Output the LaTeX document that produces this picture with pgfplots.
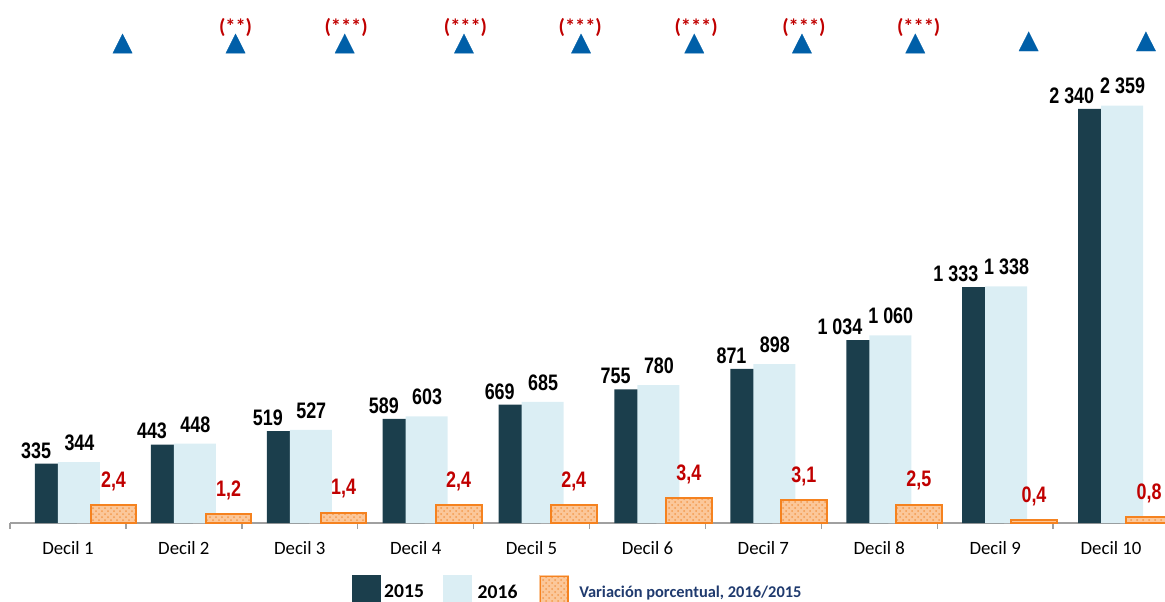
\documentclass[border=0pt]{standalone}
\usepackage{pgfplots}
\pgfplotsset{compat=1.18}
\usepackage{fontspec}
\setmainfont{Carlito}
\newfontfamily\numfont[FakeStretch=0.8]{Liberation Sans}
\usetikzlibrary{patterns}
\definecolor{darkbar}{HTML}{1B3E4C}
\definecolor{lightbar}{HTML}{DBEEF4}
\definecolor{oredge}{HTML}{F5821F}
\definecolor{orfill}{HTML}{FBC79A}
\definecolor{ordots}{HTML}{F39A4E}
\definecolor{triblue}{HTML}{005FA8}
\definecolor{redlab}{HTML}{C00000}
\definecolor{navy}{HTML}{1F3A6E}
\definecolor{axisgray}{HTML}{A0A0A0}
\begin{document}
\begin{tikzpicture}
\begin{axis}[
  at={(0pt,0pt)}, anchor=south west,
  scale only axis, width=577.5pt, height=261.5pt,
  xmin=-0.5, xmax=9.4655, ymin=0, ymax=2956,
  clip=false,
  axis y line=none,
  axis x line*=bottom,
  x axis line style={draw=axisgray, line width=0.9pt, -},
  xtick={0,...,9},
  xticklabels={Decil 1,Decil 2,Decil 3,Decil 4,Decil 5,Decil 6,Decil 7,Decil 8,Decil 9,Decil 10},
  major tick length=0pt,
  minor xtick={-0.5,0.5,...,8.5},
  minor tick length=3pt,
  minor x tick style={draw=axisgray, line width=0.7pt},
  tick align=outside,
  xticklabel style={font=\fontsize{9.4}{11}\selectfont, inner sep=0pt, anchor=north, yshift=-8.85pt},
  /pgf/number format/.cd, 1000 sep={\ }, assume math mode=true, /pgfplots/.cd,
  legend columns=-1,
  legend style={at={(0,0)}, anchor=north west, xshift=171pt, yshift=-26pt,
    draw=none, fill=none, inner sep=0pt, column sep=0pt,
    font=\bfseries\fontsize{9.8}{11}\selectfont,
    nodes={inner sep=0pt}},
]
% 2015
\addplot[ybar, bar width=21pt, bar shift=-6pt, fill=darkbar, draw=none, forget plot,
  nodes near coords,
  nodes near coords style={anchor=south east, inner sep=0pt, xshift=-8.25pt, yshift=2.5pt,
    font=\numfont\bfseries\fontsize{11.2}{12}\selectfont, text=black}]
  coordinates {(0,335) (1,443) (2,519) (3,589) (4,669) (5,755) (6,871) (7,1034) (8,1333) (9,2340)};
% 2016
\addplot[ybar, bar width=21pt, bar shift=5.5pt, fill=lightbar, draw=none, forget plot,
  nodes near coords,
  nodes near coords style={anchor=south, inner sep=0pt, xshift=5.75pt, yshift=5.5pt,
    font=\numfont\bfseries\fontsize{11.2}{12}\selectfont, text=black}]
  coordinates {(0,344) (1,448) (2,527) (3,603) (4,685) (5,780) (6,898) (7,1060) (8,1338) (9,2359)};
% triangles
\addplot[only marks, color=triblue, mark=triangle*, mark size=5.6pt, forget plot,
  mark options={fill=triblue, draw=triblue, line width=0.1pt, yscale=1.15}]
  coordinates {(0.471,2692) (1.446,2692) (2.388,2692) (3.417,2692) (4.427,2692)
               (5.404,2692) (6.333,2692) (7.311,2692) (8.289,2704) (9.301,2704)};
% significance labels
\addplot[draw=none, mark=none, forget plot, point meta=explicit symbolic,
  nodes near coords={\pgfplotspointmeta},
  nodes near coords style={anchor=center, inner sep=0pt,
    font=\bfseries\fontsize{10.2}{12}\selectfont, text=redlab}]
  table[meta=lab] {
x y lab
1.446 2800 (**)
2.400 2800 (***)
3.430 2800 (***)
4.420 2800 (***)
5.420 2800 (***)
6.350 2800 (***)
7.340 2800 (***)
};
\addlegendimage{legend image code/.code={\fill[darkbar] (0pt,-5.5pt) rectangle (14pt,8.5pt);}}
\addlegendentry{\hspace{1.5pt}2015\hspace{9.5pt}\mbox{}}
\addlegendimage{legend image code/.code={\fill[lightbar] (0pt,-5.5pt) rectangle (14pt,8.5pt);}}
\addlegendentry{\hspace{3pt}2016\hspace{11pt}\mbox{}}
\addlegendimage{legend image code/.code={\fill[orfill] (0pt,-5.5pt) rectangle (14.5pt,8.5pt);
  \path[pattern=crosshatch dots, pattern color=ordots, draw=oredge, line width=0.8pt] (0.4pt,-5.1pt) rectangle (14.1pt,8.1pt);}}
\addlegendentry{\hspace{5pt}\fontsize{8.2}{10}\selectfont\color{navy}Variación porcentual, 2016/2015}
\end{axis}
\begin{axis}[
  at={(0pt,0pt)}, anchor=south west,
  scale only axis, width=577.5pt, height=261.5pt,
  xmin=-0.8995, xmax=9.1387, ymin=0, ymax=71.64,
  hide axis, clip=false,
  /pgf/number format/.cd, fixed, fixed zerofill, precision=1, use comma, assume math mode=true, /pgfplots/.cd,
]
\addplot[ybar, bar width=22.85pt, bar shift=0pt, fill=orfill, draw=none,
  nodes near coords,
  nodes near coords style={anchor=south, inner sep=0pt, yshift=7pt,
    font=\numfont\bfseries\fontsize{11.2}{12}\selectfont, text=redlab}]
  coordinates {(0,2.4) (1,1.2) (2,1.4) (3,2.4) (4,2.4) (5,3.4) (6,3.1) (7,2.5) (8,0.4) (9,0.8)};
\addplot[ybar, bar width=22.85pt, bar shift=0pt, pattern=crosshatch dots, pattern color=ordots,
  draw=oredge, line width=1pt]
  coordinates {(0,2.4) (1,1.2) (2,1.4) (3,2.4) (4,2.4) (5,3.4) (6,3.1) (7,2.5) (8,0.4) (9,0.8)};
\end{axis}
\pgfresetboundingbox
\path[use as bounding box] (-5pt,-39pt) rectangle (577.5pt,261.5pt);
\end{tikzpicture}
\end{document}
